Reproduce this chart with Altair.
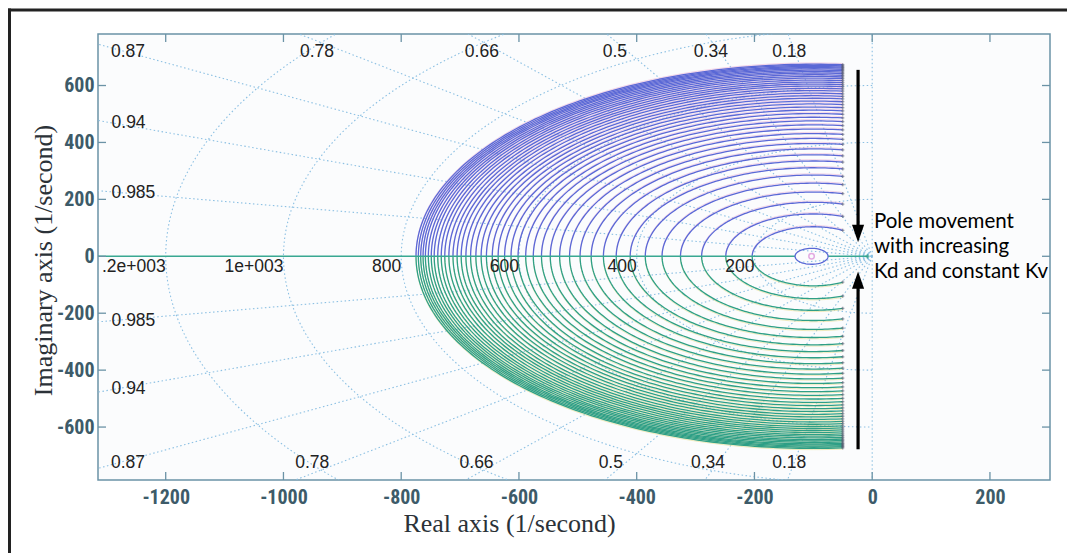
import altair as alt
import numpy as np
import pandas as pd

# ---------------- values ----------------
X_DOMAIN = [-1315, 302]
Y_DOMAIN = [-786, 781]
x_ticks = [-1200, -1000, -800, -600, -400, -200, 0, 200]
y_ticks = [-600, -400, -200, 0, 200, 400, 600]

# open-loop poles (-50 +/- j*h) and the zero at -100 for each locus
zero_re = -100.0
pole_re = -50.0
pole_im = [91, 140, 183, 220, 252, 281, 307, 331, 353, 374, 393, 411, 428, 444,
           459, 473, 486, 499, 511, 522, 533, 543, 553, 562, 571, 580, 588, 596,
           603, 610, 617, 624, 630, 636, 642, 647, 652, 657, 661, 665, 669, 673]

# small closed locus around the zero
small_center = -103.0
small_radius = 28.0

# s-grid
zetas = [0.18, 0.34, 0.5, 0.66, 0.78, 0.87, 0.94, 0.985]
wns = [200, 400, 600, 800, 1000, 1200]
wn_labels = ["200", "400", "600", "800", "1e+003", ".2e+003"]

# damping labels (text, x, y) in data coordinates
zeta_top_text = ["0.87", "0.78", "0.66", "0.5", "0.34", "0.18"]
zeta_top_x = [-1264, -943, -663, -437, -274, -141]
zeta_top_y = 718
zeta_bot_text = ["0.87", "0.78", "0.66", "0.5", "0.34", "0.18"]
zeta_bot_x = [-1264, -951, -672, -444, -279, -141]
zeta_bot_y = -726
zeta_side_text = ["0.94", "0.985", "0.985", "0.94"]
zeta_side_y = [468, 222, -228, -467]
zeta_side_x = -1292

note_lines = ["Pole movement", "with increasing", "Kd and constant Kv"]
note_y = [120, 31, -54]
note_x = 3

arrow_x = -24
arrow_top = [655, 50]      # start, tip
arrow_bot = [-678, -54]

# ---------------- tables ----------------
xs = alt.Scale(domain=X_DOMAIN, nice=False, zero=False)
ys = alt.Scale(domain=Y_DOMAIN, nice=False, zero=False)

rows = []
for i, h in enumerate(pole_im):
    r = np.hypot(pole_re - zero_re, h)
    th0 = np.arctan2(h, pole_re - zero_re)
    th = np.linspace(th0, np.pi, 90)
    for sgn, half in ((1, "upper"), (-1, "lower")):
        for k, t in enumerate(th):
            rows.append(dict(cid=f"{half}{i}", half=half, k=k,
                             x=zero_re + r * np.cos(t), y=sgn * r * np.sin(t)))
loci = pd.DataFrame(rows)
upper = loci[loci["half"] == "upper"].copy()
lower = loci[loci["half"] == "lower"].copy()
# faint colour fringe that each printed line carries in the picture
upper_g = upper.copy()
upper_g["y"] = upper_g["y"] + 4.5
lower_g = lower.copy()
lower_g["y"] = lower_g["y"] - 4.5

poles = pd.DataFrame(
    [dict(x=pole_re, y=s * h) for h in pole_im for s in (1, -1)])

rows = []
for k, t in enumerate(np.linspace(0, 2 * np.pi, 60)):
    rows.append(dict(k=k, x=small_center + small_radius * np.cos(t),
                     y=small_radius * np.sin(t)))
small = pd.DataFrame(rows)

rows = []
for wn in wns:
    for k, t in enumerate(np.linspace(np.pi / 2, 3 * np.pi / 2, 200)):
        rows.append(dict(g=f"c{wn}", k=k, x=wn * np.cos(t), y=wn * np.sin(t)))
for z in zetas + [0.0]:
    for s in (1, -1):
        R = 2500
        rows.append(dict(g=f"z{z}{s}", k=0, x=0, y=0))
        rows.append(dict(g=f"z{z}{s}", k=1, x=-z * R, y=s * R * np.sqrt(1 - z * z)))
grid = pd.DataFrame(rows)

axis_line = pd.DataFrame([
    dict(g="a", k=0, x=X_DOMAIN[0], y=0), dict(g="a", k=1, x=small_center - small_radius, y=0),
    dict(g="b", k=0, x=small_center + small_radius, y=0), dict(g="b", k=1, x=-8, y=0),
])

wn_df = pd.DataFrame(dict(x=[-w for w in wns], y=[0] * len(wns), t=wn_labels))
ztop = pd.DataFrame(dict(x=zeta_top_x, y=[zeta_top_y] * 6, t=zeta_top_text))
zbot = pd.DataFrame(dict(x=zeta_bot_x, y=[zeta_bot_y] * 6, t=zeta_bot_text))
zside = pd.DataFrame(dict(x=[zeta_side_x] * 4, y=zeta_side_y, t=zeta_side_text))
notes = pd.DataFrame(dict(x=[note_x] * 3, y=note_y, t=note_lines))
xt = pd.DataFrame(dict(x=x_ticks))
yt = pd.DataFrame(dict(y=y_ticks))
one = pd.DataFrame(dict(a=[0]))

shafts = pd.DataFrame(dict(x=[arrow_x, arrow_x], y=[arrow_top[0], arrow_bot[0]],
                           y2=[arrow_top[1] + 35, arrow_bot[1] - 35]))
heads_dn = pd.DataFrame(dict(x=[arrow_x], y=[arrow_top[1] + 30]))
heads_up = pd.DataFrame(dict(x=[arrow_x], y=[arrow_bot[1] - 30]))

FRAME = "#6b93a6"
TICKFONT = "Roboto Condensed, Roboto, sans-serif"
LABELFONT = "Liberation Sans, Arial, sans-serif"
TITLEFONT = "Liberation Serif, DejaVu Serif, serif"

XAXIS = alt.Axis(
    values=x_ticks, title="Real axis (1/second)", grid=False, domain=False,
    ticks=False, labelPadding=7, labelFont=TICKFONT, labelFontWeight="bold",
    labelFontSize=20, labelColor="#3d5b69", labelExpr="datum.value + ''",
    titleFont=TITLEFONT, titleFontSize=26, titleFontWeight="normal", titleColor="#2b3238",
    titleX=411, titleY=43, titleBaseline="middle", titleAlign="center")
YAXIS = alt.Axis(
    values=y_ticks, title="Imaginary axis (1/second)", grid=False, domain=False,
    ticks=False, labelPadding=4, labelFont=TICKFONT, labelFontWeight="bold",
    labelFontSize=20, labelColor="#3d5b69", labelExpr="datum.value + ''",
    titleFont=TITLEFONT, titleFontSize=26, titleFontWeight="normal", titleColor="#2b3238",
    titleX=-55, titleY=226, titleBaseline="middle", titleAlign="center")


def X():
    return alt.X("x:Q", scale=xs, axis=XAXIS)


def Y():
    return alt.Y("y:Q", scale=ys, axis=YAXIS)


def curves(df, color, width, opacity=1.0):
    return alt.Chart(df).mark_line(
        clip=True, strokeWidth=width, color=color, opacity=opacity
    ).encode(x=X(), y=Y(), detail="cid:N", order="k:Q")


grid_layer = alt.Chart(grid).mark_line(
    clip=True, color="#8cc0e3", strokeWidth=1.1, strokeDash=[1.5, 2.5]
).encode(x=X(), y=Y(), detail="g:N", order="k:Q")

upper_ghost = curves(upper_g, "#e9aad2", 1.0, 0.5)
lower_ghost = curves(lower_g, "#e2d77a", 1.0, 0.5)
upper_layer = curves(upper, "#5a68d6", 1.3)
lower_layer = curves(lower, "#2e9f86", 1.3)

axis_layer = alt.Chart(axis_line).mark_line(clip=True, color="#39a892", strokeWidth=1.4).encode(
    x=X(), y=Y(), detail="g:N", order="k:Q")

small_layer = alt.Chart(small).mark_line(clip=True, color="#5a68d6", strokeWidth=1.3).encode(
    x=X(), y=Y(), order="k:Q")

zero_mark = alt.Chart(pd.DataFrame(dict(x=[small_center], y=[0]))).mark_point(
    shape="circle", size=30, color="#d98ad8", filled=False, strokeWidth=1.5).encode(x=X(), y=Y())

pole_marks = alt.Chart(poles).mark_point(
    shape="cross", size=10, color="#555a70", opacity=0.6, filled=True).encode(x=X(), y=Y())

end_mark = alt.Chart(pd.DataFrame(dict(x=[-8], y=[0]))).mark_point(
    shape="cross", size=18, color="#2e9f86", filled=True).encode(x=X(), y=Y())

wn_text = alt.Chart(wn_df).mark_text(
    clip=True, align="right", baseline="top", dy=2, font=LABELFONT, fontSize=17.5,
    color="#222222").encode(x=X(), y=Y(), text="t:N")

ztop_text = alt.Chart(ztop).mark_text(
    align="center", baseline="middle", font=LABELFONT, fontSize=17.5, color="#222222"
).encode(x=X(), y=Y(), text="t:N")
zbot_text = alt.Chart(zbot).mark_text(
    align="center", baseline="middle", font=LABELFONT, fontSize=17.5, color="#222222"
).encode(x=X(), y=Y(), text="t:N")
zside_text = alt.Chart(zside).mark_text(
    align="left", baseline="middle", font=LABELFONT, fontSize=17.5, color="#222222"
).encode(x=X(), y=Y(), text="t:N")

note_text = alt.Chart(notes).mark_text(
    align="left", baseline="middle", font="Lato, Open Sans, sans-serif", fontSize=20.5,
    color="#000000").encode(x=X(), y=Y(), text="t:N")

shaft_layer = alt.Chart(shafts).mark_rule(color="#000000", strokeWidth=3.2).encode(
    x=X(), y=Y(), y2="y2:Q")
head_dn = alt.Chart(heads_dn).mark_point(
    shape="M -0.7 -1 L 0.7 -1 L 0 1 Z", size=300, filled=True, color="#000000", opacity=1
).encode(x=X(), y=Y())
head_up = alt.Chart(heads_up).mark_point(
    shape="M -0.7 1 L 0.7 1 L 0 -1 Z", size=300, filled=True, color="#000000", opacity=1
).encode(x=X(), y=Y())

TL = 8
H = 446
W = 952
tick_top = alt.Chart(xt).mark_rule(color=FRAME, strokeWidth=1.3).encode(
    x=X(), y=alt.value(0), y2=alt.value(TL))
tick_bot = alt.Chart(xt).mark_rule(color=FRAME, strokeWidth=1.3).encode(
    x=X(), y=alt.value(H - TL), y2=alt.value(H))
tick_left = alt.Chart(yt).mark_rule(color=FRAME, strokeWidth=1.3).encode(
    y=Y(), x=alt.value(0), x2=alt.value(TL))
tick_right = alt.Chart(yt).mark_rule(color=FRAME, strokeWidth=1.3).encode(
    y=Y(), x=alt.value(W - TL), x2=alt.value(W))

frame_v = alt.Chart(one).mark_rule(color="#222222", strokeWidth=3).encode(
    x=alt.value(-88.5), y=alt.value(-25.5), y2=alt.value(540))
frame_h = alt.Chart(one).mark_rule(color="#222222", strokeWidth=3).encode(
    x=alt.value(-90), x2=alt.value(1000), y=alt.value(-24))

chart = alt.layer(
    grid_layer, upper_ghost, lower_ghost, upper_layer, lower_layer, axis_layer,
    small_layer, zero_mark, pole_marks, end_mark, wn_text, ztop_text, zbot_text,
    zside_text, note_text, shaft_layer, head_dn, head_up, tick_top, tick_bot,
    tick_left, tick_right, frame_v, frame_h
).properties(
    width=W, height=H,
    autosize=alt.AutoSizeParams(type="none"),
    padding={"left": 98, "top": 34, "right": 17, "bottom": 73},
    background="#ffffff",
).configure_view(stroke=FRAME, strokeWidth=1.5, fill="#fbfcfd")

chart.save("out.html", embed_options={"renderer": "svg", "actions": False})
